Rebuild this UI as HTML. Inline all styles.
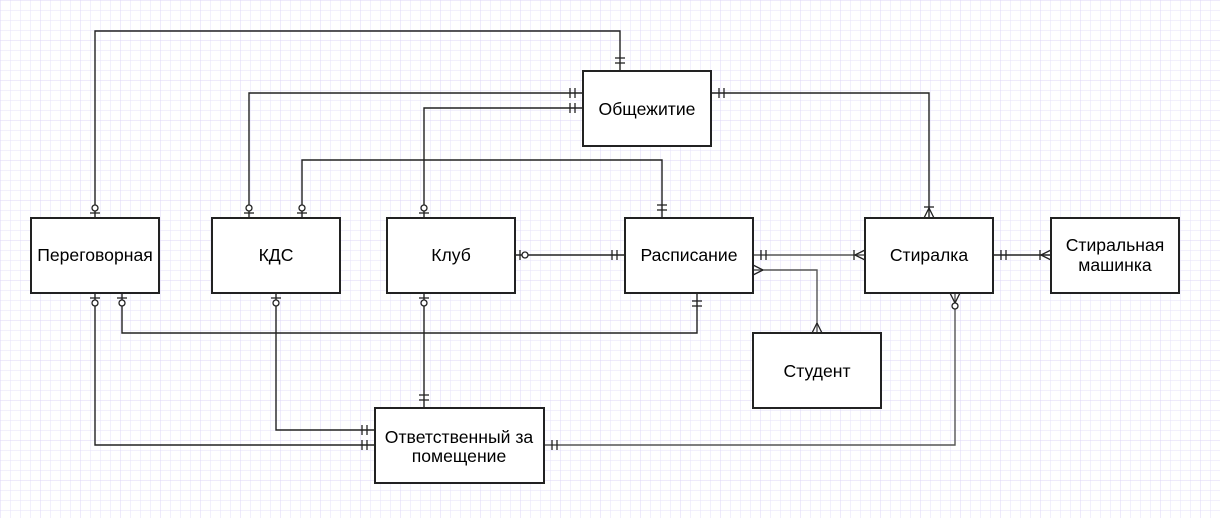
<!DOCTYPE html>
<html><head><meta charset="utf-8"><style>
html,body{margin:0;padding:0;background:#fff;}
svg{display:block;font-family:"Liberation Sans",sans-serif;}
</style></head><body>
<svg id="s" width="1220" height="518" viewBox="0 0 1220 518" xmlns="http://www.w3.org/2000/svg">
<defs>
<pattern id="g" width="10" height="10" patternUnits="userSpaceOnUse">
<path d="M10 0H0V10" fill="none" stroke="#e6e2fa" stroke-width="1"/>
</pattern>
<pattern id="G" width="40" height="40" patternUnits="userSpaceOnUse">
<rect width="40" height="40" fill="url(#g)"/>
<path d="M40 0H0V40" fill="none" stroke="#dcd6f7" stroke-width="1"/>
</pattern>
</defs>
<rect width="1220" height="518" fill="url(#G)"/>
<g fill="none" stroke="#222" stroke-width="1.4">
<polyline points="95,218 95,31 620,31 620,71"/>
<polyline points="249,218 249,93 583,93"/>
<polyline points="424,218 424,108 583,108"/>
<polyline points="302,218 302,160 662,160 662,218"/>
<polyline points="711,93 929,93 929,218"/>
<polyline points="515,255 625,255"/>
<polyline points="753,255 865,255" stroke="#555"/>
<polyline points="993,255 1051,255"/>
<polyline points="753,270 817,270 817,333" stroke="#555"/>
<polyline points="122,293 122,333 697,333 697,293"/>
<polyline points="95,293 95,445 375,445"/>
<polyline points="276,293 276,430 375,430"/>
<polyline points="424,293 424,408"/>
<polyline points="955,293 955,445 544,445" stroke="#555"/>
</g>
<g id="m" fill="#fff" stroke="#222" stroke-width="1.3"></g>
<g fill="#fff" stroke="#222" stroke-width="2">
<rect x="583" y="71" width="128" height="75"/>
<rect x="31" y="218" width="128" height="75"/>
<rect x="212" y="218" width="128" height="75"/>
<rect x="387" y="218" width="128" height="75"/>
<rect x="625" y="218" width="128" height="75"/>
<rect x="865" y="218" width="128" height="75"/>
<rect x="1051" y="218" width="128" height="75"/>
<rect x="753" y="333" width="128" height="75"/>
<rect x="375" y="408" width="169" height="75"/>
</g>
<g font-size="17.6" fill="#000" text-anchor="middle">
<text x="647" y="115">Общежитие</text>
<text x="95" y="261">Переговорная</text>
<text x="276" y="261">КДС</text>
<text x="451" y="261">Клуб</text>
<text x="689" y="261">Расписание</text>
<text x="929" y="261">Стиралка</text>
<text x="1115" y="251">Стиральная</text>
<text x="1115" y="271">машинка</text>
<text x="817" y="377">Студент</text>
<text x="459" y="443">Ответственный за</text>
<text x="459" y="462">помещение</text>
</g>
<script>
var g=document.getElementById('m'),NS='http://www.w3.org/2000/svg';
function L(a,b,c,d){var e=document.createElementNS(NS,'line');e.setAttribute('x1',a);e.setAttribute('y1',b);e.setAttribute('x2',c);e.setAttribute('y2',d);g.appendChild(e);}
function C(x,y){var e=document.createElementNS(NS,'circle');e.setAttribute('cx',x);e.setAttribute('cy',y);e.setAttribute('r',3);g.appendChild(e);}
function mk(x,y,dx,dy,t){var px=-dy,py=dx;
function bar(d){L(x+dx*d+px*5,y+dy*d+py*5,x+dx*d-px*5,y+dy*d-py*5);}
if(t=='one'){bar(8);bar(13);}
if(t=='zo'){bar(5);C(x+dx*10,y+dy*10);}
if(t.indexOf('many')==0){L(x+px*5,y+py*5,x+dx*10,y+dy*10);L(x-px*5,y-py*5,x+dx*10,y+dy*10);if(t=='manybar')bar(11);if(t=='manyzo')C(x+dx*13,y+dy*13);}
}
mk(95,218,0,-1,'zo');mk(620,71,0,-1,'one');
mk(249,218,0,-1,'zo');mk(583,93,-1,0,'one');
mk(424,218,0,-1,'zo');mk(583,108,-1,0,'one');
mk(302,218,0,-1,'zo');mk(662,218,0,-1,'one');
mk(711,93,1,0,'one');mk(929,218,0,-1,'manybar');
mk(515,255,1,0,'zo');mk(625,255,-1,0,'one');
mk(753,255,1,0,'one');mk(865,255,-1,0,'manybar');
mk(993,255,1,0,'one');mk(1051,255,-1,0,'manybar');
mk(753,270,1,0,'many');mk(817,333,0,-1,'many');
mk(122,293,0,1,'zo');mk(697,293,0,1,'one');
mk(95,293,0,1,'zo');mk(375,445,-1,0,'one');
mk(276,293,0,1,'zo');mk(375,430,-1,0,'one');
mk(424,293,0,1,'zo');mk(424,408,0,-1,'one');
mk(955,293,0,1,'manyzo');mk(544,445,1,0,'one');
</script>
</svg>
</body></html>
